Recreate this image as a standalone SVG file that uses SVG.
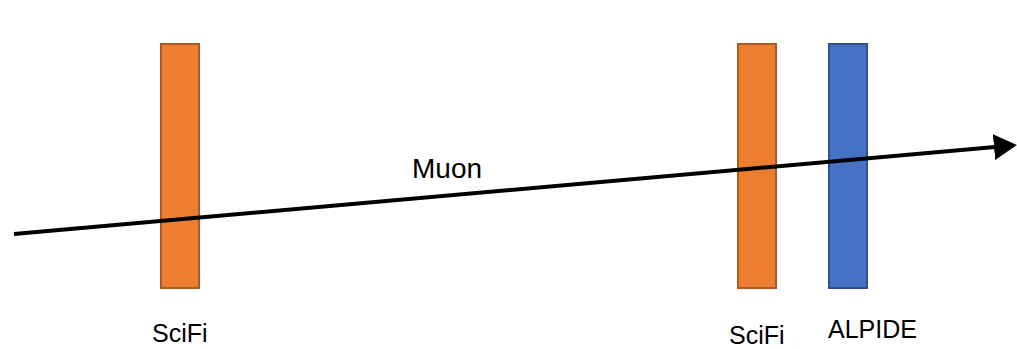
<svg xmlns="http://www.w3.org/2000/svg" width="1017" height="349" viewBox="0 0 1017 349">
<style>
.sf{fill:#ED7D31;stroke:#AE5A21;stroke-width:2}
.al{fill:#4472C4;stroke:#2F528F;stroke-width:2}
text{font-family:"Liberation Sans",Arial,sans-serif;font-size:25px;fill:#000}
</style>
<defs>
<marker id="ah" markerWidth="24" markerHeight="28" refX="1" refY="13" orient="auto" markerUnits="userSpaceOnUse"><path d="M0,0 L23,13 L0,26 Z" fill="#000"/></marker>
</defs>
<g id="scifi1"><rect class="sf" x="161" y="44" width="38" height="244"/></g>
<g id="scifi2"><rect class="sf" x="738" y="44" width="38" height="244"/></g>
<g id="alpide"><rect class="al" x="829" y="44" width="38" height="244"/></g>
<g id="connectors"><line x1="14" y1="234" x2="995" y2="147" stroke="#000" stroke-width="4" marker-end="url(#ah)"/></g>
<text x="412" y="178" style="font-size:28px">Muon</text>
<text x="152" y="342">SciFi</text>
<text x="729" y="344">SciFi</text>
<text x="828" y="338">ALPIDE</text>
</svg>
